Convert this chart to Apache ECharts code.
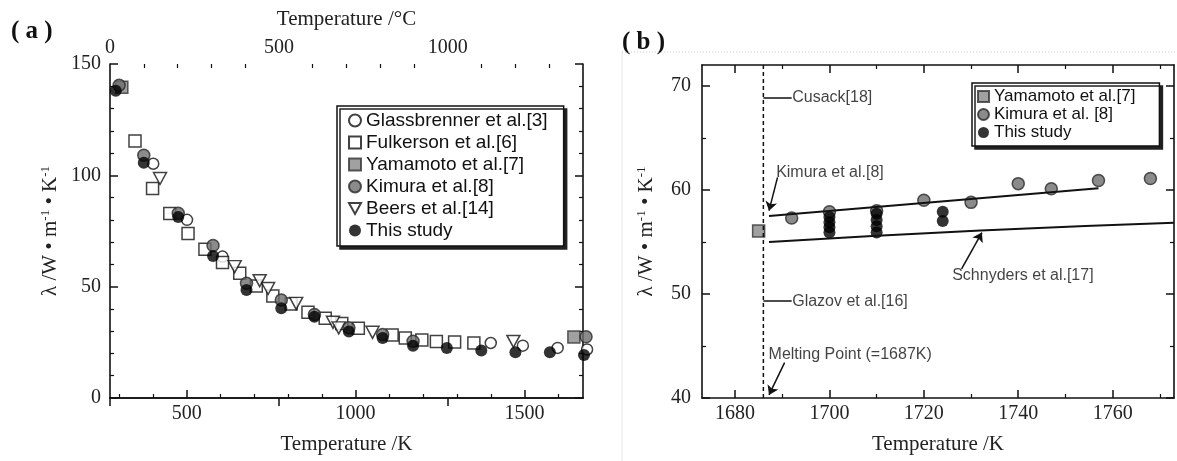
<!DOCTYPE html>
<html><head><meta charset="utf-8">
<script src="https://cdn.jsdelivr.net/npm/echarts@6/dist/echarts.min.js"></script>
<style>html,body{margin:0;padding:0;background:#fff}#c{width:1177px;height:461px}</style>
</head><body><div id="c"></div>
<script>
// ---------- Panel (a) data: [Temperature K, lambda W/m/K] ----------
const aGlass = [[401,105.2],[501,80.0],[606,63.5],[1400,24.7],[1495,23.5],[1598,22.5],[1685,21.8]];
const aFulk = [[347,115.4],[399,94.1],[450,82.9],[504,73.9],[554,66.8],[606,60.8],[657,56.0],[706,50.3],[755,45.8],[809,42.2],[859,38.5],[910,35.8],[959,33.5],[1008,31.3],[1108,28.3],[1147,26.9],[1196,26.1],[1239,25.4],[1293,25.1],[1350,24.7]];
const aYama = [[308,139.6],[1646,27.4]];
const aKimura = [[300,140.5],[373,109],[475,83],[578,68.5],[677,51.5],[780,44],[878,37.5],[980,31.5],[1080,28.5],[1170,25.5],[1682,27.5]];
const aBeers = [[421,98.6],[642,59.0],[716,52.7],[741,49.2],[824,42.5],[933,34.0],[950,31.5],[1050,29.5],[1467,25.4]];
const aStudy = [[290,138],[373,105.7],[475,81.3],[578,63.8],[677,48.5],[780,40.3],[878,36.5],[980,29.9],[1080,26.9],[1170,23.5],[1270,22.5],[1372,21.3],[1473,20.5],[1575,20.5],[1676,19.3]];
const aKRange = [273, 1673];
const aCRange = [0, 1400];
const aKMajor = [500, 1000, 1500];
const aKMinor = [300,400,600,700,800,900,1100,1200,1300,1400,1600];
const aCMajor = [0, 500, 1000];
const aCMinor = [100,200,300,400,600,700,800,900,1100,1200,1300];
const aLRange = [0, 150];

// ---------- Panel (b) data ----------
const bYama = [[1685,56.05]];
const bKimura = [[1692,57.3],[1700,57.9],[1710,58.0],[1720,59.0],[1730,58.8],[1740,60.6],[1747,60.1],[1757,60.9],[1768,61.1]];
const bStudy = [[1700,57.4],[1700,56.9],[1700,56.4],[1700,55.9],[1710,57.7],[1710,57.1],[1710,56.5],[1710,55.9],[1724,57.9],[1724,57.0]];
const bKimuraFit = [[1687.2,57.5],[1757,60.15]];
const bSchnyders = [[1687.2,55.0],[1732,56.1],[1773,56.85]];
const bMelting = [[1686,40],[1686,72]];
const bKRange = [1673, 1773];
const bLRange = [40, 72];
const bKMajor = [1680,1700,1720,1740,1760];
const bKMinor = [1690,1710,1730,1750,1770];
const bLMajor = [40,50,60,70];
const bLMinor = [45,55,65];
const bNotes = [
  {name:'Cusack[18]', value:[1692,68.9]},
  {name:'Glazov et al.[16]', value:[1692,49.3]},
  {name:'Kimura et al.[8]', value:[1688.6,61.7]},
  {name:'Schnyders et al.[17]', value:[1725.9,51.8]},
  {name:'Melting Point (=1687K)', value:[1687,44.2]}
];
const bLeaders = [[[1686,68.9],[1692,68.9]],[[1686,49.3],[1692,49.3]]];
const bArrows = [[[1689,61.2],[1687.2,58.0]],[[1728,52.4],[1732.3,55.9]],[[1690.5,43.4],[1687.2,40.3]]];

const SERIF = '"Liberation Serif","Times New Roman",serif';
const SANS = '"Liberation Sans",Arial,sans-serif';
const INK = '#111';
const INV_TRI = 'path://M0,0L20,0L10,18Z';

const line = {lineStyle:{color:INK,width:1.6}};
const plain = v => String(v);
const majorTick = (vals)=>({show:true,inside:true,length:8,lineStyle:{color:INK,width:1.5},customValues:vals});
const minorTickAxis = (grid,pos,range,vals)=>({type:'value',gridIndex:grid,position:pos,min:range[0],max:range[1],
  axisLine:{show:false},axisLabel:{show:false},splitLine:{show:false},
  axisTick:{show:true,inside:true,length:4,lineStyle:{color:INK,width:1.2},customValues:vals}});
const lab = (vals,margin)=>({show:true,customValues:vals,formatter:plain,fontFamily:SERIF,fontSize:20,color:'#222',margin:margin});
const yName = {
  rich:{a:{fontFamily:SERIF,fontSize:21,color:'#222'},s:{fontFamily:SERIF,fontSize:13,color:'#222',verticalAlign:'top',padding:[0,0,10,0]}}
};
const nameStr = '{a|λ /W • m}{s|-1}{a| • K}{s|-1}';

const chart = echarts.init(document.getElementById('c'), null, {renderer:'canvas'});
const gridBase = {containLabel:false, outerBoundsMode:'none'};
chart.setOption({
  animation:false,
  backgroundColor:'#fff',
  grid:[
    Object.assign({left:110,top:64,width:473,height:334},gridBase),
    Object.assign({left:110,top:64,width:473,height:334},gridBase),
    Object.assign({left:702,top:65,width:472,height:333},gridBase),
    Object.assign({left:702,top:65,width:472,height:333},gridBase)
  ],
  xAxis:[
    {type:'value',gridIndex:0,position:'bottom',min:aKRange[0],max:aKRange[1],axisLine:line,splitLine:{show:false},
     axisTick:majorTick(aKMajor),axisLabel:lab(aKMajor,6),
     name:'Temperature /K',nameLocation:'middle',nameGap:36,nameTextStyle:{fontFamily:SERIF,fontSize:21,color:'#222'}},
    {type:'value',gridIndex:0,position:'top',min:aCRange[0],max:aCRange[1],axisLine:line,splitLine:{show:false},
     axisTick:majorTick(aCMajor),axisLabel:lab(aCMajor,6),
     name:'Temperature /°C',nameLocation:'middle',nameGap:34,nameTextStyle:{fontFamily:SERIF,fontSize:21,color:'#222'}},
    minorTickAxis(1,'bottom',aKRange,aKMinor),
    minorTickAxis(1,'top',aCRange,aCMinor),
    {type:'value',gridIndex:2,position:'bottom',min:bKRange[0],max:bKRange[1],axisLine:line,splitLine:{show:false},
     axisTick:majorTick(bKMajor),axisLabel:lab(bKMajor,6),
     name:'Temperature /K',nameLocation:'middle',nameGap:36,nameTextStyle:{fontFamily:SERIF,fontSize:21,color:'#222'}},
    {type:'value',gridIndex:2,position:'top',min:bKRange[0],max:bKRange[1],axisLine:line,splitLine:{show:false},
     axisTick:majorTick(bKMajor),axisLabel:{show:false}},
    minorTickAxis(3,'bottom',bKRange,bKMinor),
    minorTickAxis(3,'top',bKRange,bKMinor)
  ],
  yAxis:[
    {type:'value',gridIndex:0,position:'left',min:aLRange[0],max:aLRange[1],interval:50,axisLine:line,splitLine:{show:false},
     axisTick:{show:true,inside:true,length:8,lineStyle:{color:INK,width:1.5}},
     minorTick:{show:true,splitNumber:5,length:4,lineStyle:{color:INK,width:1.2}},
     axisLabel:{fontFamily:SERIF,fontSize:20,color:'#222',margin:9,formatter:plain},
     name:nameStr,nameLocation:'middle',nameGap:48,nameTextStyle:yName},
    {type:'value',gridIndex:0,position:'right',min:aLRange[0],max:aLRange[1],interval:50,axisLine:line,splitLine:{show:false},
     axisTick:{show:true,inside:true,length:8,lineStyle:{color:INK,width:1.5}},
     minorTick:{show:true,splitNumber:5,length:4,lineStyle:{color:INK,width:1.2}},
     axisLabel:{show:false}},
    {type:'value',gridIndex:1,show:false,min:aLRange[0],max:aLRange[1]},
    {type:'value',gridIndex:2,position:'left',min:bLRange[0],max:bLRange[1],axisLine:line,splitLine:{show:false},
     axisTick:majorTick(bLMajor),axisLabel:lab(bLMajor,11),
     name:nameStr,nameLocation:'middle',nameGap:44,nameTextStyle:yName},
    {type:'value',gridIndex:2,position:'right',min:bLRange[0],max:bLRange[1],axisLine:line,splitLine:{show:false},
     axisTick:majorTick(bLMajor),axisLabel:{show:false}},
    minorTickAxis(3,'left',bLRange,bLMinor),
    minorTickAxis(3,'right',bLRange,bLMinor)
  ],
  legend:[
    {data:['Glassbrenner et al.[3]','Fulkerson et al.[6]','Yamamoto et al.[7]','Kimura et al.[8]','Beers et al.[14]','This study'],
     orient:'vertical',left:337,top:106,itemWidth:12,itemHeight:12,itemGap:3,itemTextGap:19,
     padding:[5,16,6,11],backgroundColor:'#fff',borderColor:INK,borderWidth:1.5,
     shadowColor:'#222',shadowBlur:0,shadowOffsetX:3,shadowOffsetY:3,
     textStyle:{fontFamily:SANS,fontSize:19,color:INK},selectedMode:false},
    {data:['Yamamoto et al.[7]','Kimura et al. [8]','This study'],
     orient:'vertical',left:972,top:83,itemWidth:11,itemHeight:11,itemGap:1,itemTextGap:6,
     padding:[5,24,5,5],backgroundColor:'#fff',borderColor:INK,borderWidth:1.5,
     shadowColor:'#222',shadowBlur:0,shadowOffsetX:3,shadowOffsetY:3,
     textStyle:{fontFamily:SANS,fontSize:17,color:INK},selectedMode:false}
  ],
  series:[
    {name:'Glassbrenner et al.[3]',type:'scatter',xAxisIndex:0,yAxisIndex:0,data:aGlass,clip:false,symbol:'circle',symbolSize:11,
     itemStyle:{color:'#fff',borderColor:INK,borderWidth:1.5}},
    {name:'Fulkerson et al.[6]',type:'scatter',xAxisIndex:0,yAxisIndex:0,data:aFulk,symbol:'rect',symbolSize:12,
     itemStyle:{color:'#fff',borderColor:INK,borderWidth:1.5}},
    {name:'Beers et al.[14]',type:'scatter',xAxisIndex:0,yAxisIndex:0,data:aBeers,symbol:INV_TRI,symbolSize:[13,12],
     itemStyle:{color:'#fff',borderColor:INK,borderWidth:1.5}},
    {name:'Yamamoto et al.[7]',type:'scatter',xAxisIndex:0,yAxisIndex:0,data:aYama,clip:false,symbol:'rect',symbolSize:12,
     itemStyle:{color:'#8a8a8a',borderColor:'#333',borderWidth:1.5}},
    {name:'Kimura et al.[8]',type:'scatter',xAxisIndex:0,yAxisIndex:0,data:aKimura,clip:false,symbol:'circle',symbolSize:12,
     itemStyle:{color:'#6e6e6e',borderColor:'#2a2a2a',borderWidth:1.5}},
    {name:'This study',type:'scatter',xAxisIndex:0,yAxisIndex:0,data:aStudy,clip:false,symbol:'circle',symbolSize:12,
     itemStyle:{color:'#000'}},
    // panel b
    {name:'Kimura fit',type:'line',xAxisIndex:4,yAxisIndex:3,data:bKimuraFit,symbol:'none',lineStyle:{color:INK,width:2}},
    {name:'Schnyders',type:'line',xAxisIndex:4,yAxisIndex:3,data:bSchnyders,symbol:'none',smooth:true,lineStyle:{color:INK,width:2}},
    {name:'Melting',type:'line',xAxisIndex:4,yAxisIndex:3,data:bMelting,symbol:'none',lineStyle:{color:INK,width:1.5,type:[4,3]}},
    {name:'Yamamoto et al.[7]',type:'scatter',xAxisIndex:4,yAxisIndex:3,data:bYama,symbol:'rect',symbolSize:12,
     itemStyle:{color:'#8a8a8a',borderColor:'#333',borderWidth:1.5}},
    {name:'Kimura et al. [8]',type:'scatter',xAxisIndex:4,yAxisIndex:3,data:bKimura,symbol:'circle',symbolSize:12,
     itemStyle:{color:'#6e6e6e',borderColor:'#2a2a2a',borderWidth:1.5}},
    {name:'This study',type:'scatter',xAxisIndex:4,yAxisIndex:3,data:bStudy,symbol:'circle',symbolSize:12,
     itemStyle:{color:'#000'}},
    {name:'notes',type:'scatter',xAxisIndex:4,yAxisIndex:3,data:bNotes,symbolSize:1,itemStyle:{color:'rgba(0,0,0,0)'},
     label:{show:true,position:'right',distance:0,formatter:'{b}',fontFamily:SANS,fontSize:16,color:INK},
     markLine:{silent:true,animation:false,label:{show:false},
       data:[].concat(
         bLeaders.map(s=>[{coord:s[0],symbol:'none'},{coord:s[1],symbol:'none'}]),
         bArrows.map(s=>[{coord:s[0],symbol:'none'},{coord:s[1],symbol:'arrow',symbolSize:9}])
       ),
       lineStyle:{color:INK,width:1.5,type:'solid'}}}
  ],
  graphic:[
    {type:'text',left:11,top:19,style:{text:'( a )',font:'bold 25px '+SERIF,fill:INK}},
    {type:'text',left:622,top:30,style:{text:'( b )',font:'bold 25px '+SERIF,fill:INK}},
    {type:'line',shape:{x1:622,y1:52,x2:1177,y2:52},style:{stroke:'#c8c8c8',lineWidth:1,lineDash:[1,2]}},
    {type:'line',shape:{x1:622,y1:52,x2:622,y2:461},style:{stroke:'#e6e6e6',lineWidth:1}}
  ]
});
</script></body></html>
